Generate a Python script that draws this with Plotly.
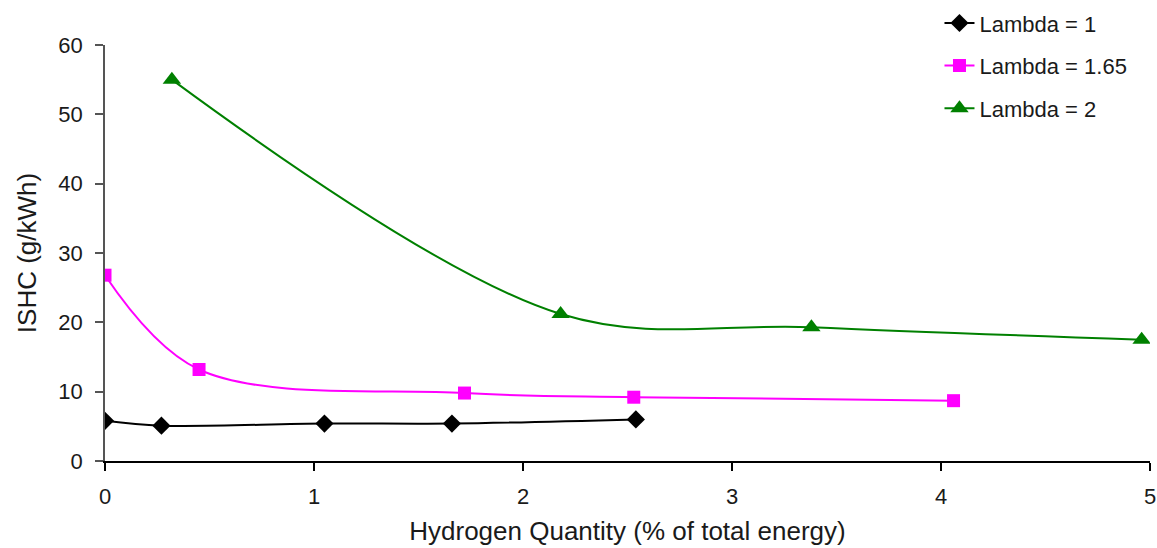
import plotly.graph_objects as go

# Hydrogen share of total energy (%) and indicated specific HC (g/kWh)
h2_lambda_1 = [0.0, 0.27, 1.05, 1.66, 2.54]
ishc_lambda_1 = [5.8, 5.1, 5.4, 5.4, 6.0]

h2_lambda_165 = [0.0, 0.45, 1.72, 2.53, 4.06]
ishc_lambda_165 = [26.8, 13.2, 9.8, 9.2, 8.7]

h2_lambda_2 = [0.32, 2.18, 3.38, 4.96]
ishc_lambda_2 = [55.0, 21.2, 19.3, 17.5]

series_names = ["Lambda = 1", "Lambda = 1.65", "Lambda = 2"]

FONT = "Liberation Sans, Arial, sans-serif"

fig = go.Figure()
fig.add_trace(go.Scatter(
    x=h2_lambda_1, y=ishc_lambda_1, name=series_names[0], legendgroup="a",
    mode="lines+markers", line=dict(color="#000000", width=2, shape="spline"),
    marker=dict(symbol="diamond", size=14, color="#000000"),
))
fig.add_trace(go.Scatter(
    x=h2_lambda_165, y=ishc_lambda_165, name=series_names[1], legendgroup="b",
    mode="lines+markers", line=dict(color="#FF00FF", width=2, shape="spline"),
    marker=dict(symbol="square", size=13, color="#FF00FF"),
))
fig.add_trace(go.Scatter(
    x=h2_lambda_2, y=ishc_lambda_2, name=series_names[2], legendgroup="c",
    mode="lines+markers", line=dict(color="#008000", width=2, shape="spline"),
    marker=dict(symbol="triangle-up", size=16, color="#008000"),
))

fig.update_layout(
    width=1157, height=548,
    margin=dict(l=105, r=7, t=45, b=87, autoexpand=False),
    paper_bgcolor="white", plot_bgcolor="white",
    font=dict(family=FONT, size=22, color="#1a1a1a"),
    showlegend=True,
    legend=dict(
        xref="container", yref="container",
        x=0.812, y=0.996, xanchor="left", yanchor="top",
        bgcolor="rgba(0,0,0,0)", font=dict(size=22),
        traceorder="grouped", tracegroupgap=11,
    ),
    xaxis=dict(
        range=[0, 5], tickvals=[0, 1, 2, 3, 4, 5],
        showgrid=False, zeroline=False, automargin=False,
        showline=True, linecolor="#000000", linewidth=1.5,
        ticks="outside", ticklen=8, tickcolor="#000000", tickwidth=1.5,
        ticklabelstandoff=7,
        title=dict(text="Hydrogen Quantity (% of total energy)", standoff=14),
    ),
    yaxis=dict(
        range=[0, 60], tickvals=[0, 10, 20, 30, 40, 50, 60],
        showgrid=False, zeroline=False, automargin=False,
        showline=True, linecolor="#555555", linewidth=1.5,
        ticks="outside", ticklen=8, tickcolor="#555555", tickwidth=1.5,
        ticklabelstandoff=8,
        title=dict(text="ISHC (g/kWh)", standoff=14),
    ),
)

fig.write_html("out.html")
